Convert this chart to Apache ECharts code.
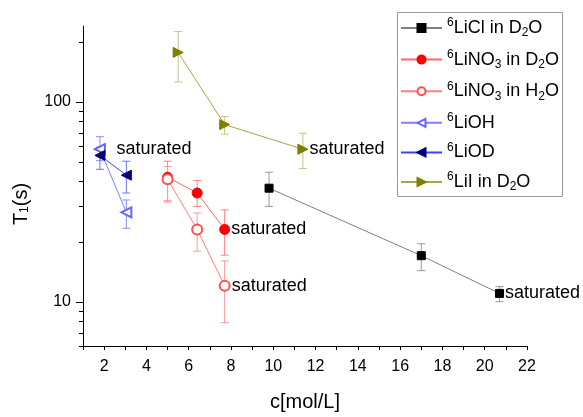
<!DOCTYPE html>
<html>
<head>
<meta charset="utf-8">
<script src="https://cdn.jsdelivr.net/npm/echarts@6/dist/echarts.min.js"></script>
<style>
  html, body { margin: 0; padding: 0; background: #fff; }
  #chart { width: 583px; height: 417px; }
</style>
</head>
<body>
<div id="chart"></div>
<script>
// values (x in mol/L, T1 in s, error bars low/high)
const liclX = [9.8, 17.0, 20.7];
const liclY = [37, 17, 11];
const liclLo = [30, 14.3, 10];
const liclHi = [44.5, 19.5, 11.9];

const no3dX = [5.0, 6.4, 7.7];
const no3dY = [42, 35, 23];
const no3dLo = [32, 30, 17.1];
const no3dHi = [50.5, 40.4, 28.8];

const no3hX = [5.0, 6.4, 7.7];
const no3hY = [41, 23, 12];
const no3hLo = [31.5, 17.9, 7.85];
const no3hHi = [47.5, 27.8, 16];

const liohX = [1.8, 3.05];
const liohY = [58, 28];
const liohLo = [50.8, 23.3];
const liohHi = [67, 32.3];

const liodX = [1.8, 3.05];
const liodY = [54, 43];
const liodLo = [46, 35];
const liodHi = [59.4, 50.5];

const liiX = [5.5, 7.7, 11.4];
const liiY = [177, 77, 58];
const liiLo = [126, 69, 46.4];
const liiHi = [225, 84.6, 69.7];

const yTicksMajor = [10, 100];
const yTicksMinor = [6, 7, 8, 9, 20, 30, 40, 50, 60, 70, 80, 90, 200];

// legend labels with super/subscripts
const legendRich = {
  '6LiCl in D2O': '{sup|6}{n|LiCl in D}{sub|2}{n|O}',
  '6LiNO3 in D2O': '{sup|6}{n|LiNO}{sub|3}{n| in D}{sub|2}{n|O}',
  '6LiNO3 in H2O': '{sup|6}{n|LiNO}{sub|3}{n| in H}{sub|2}{n|O}',
  '6LiOH': '{sup|6}{n|LiOH}',
  '6LiOD': '{sup|6}{n|LiOD}',
  '6LiI in D2O': '{sup|6}{n|LiI in D}{sub|2}{n|O}'
};

const FONT = 'Liberation Sans, Arial, sans-serif';

// points; "saturated" marker goes on given index
function pts(xs, ys, satIdx, labelOpt) {
  return xs.map((x, i) => {
    const d = { value: [x, ys[i]] };
    if (i === satIdx) {
      d.label = Object.assign({
        show: true, formatter: 'saturated', position: 'right', distance: 1,
        color: '#000', fontSize: 18, fontFamily: FONT
      }, labelOpt || {});
    }
    return d;
  });
}

function errSeries(xs, lo, hi, color) {
  return {
    type: 'custom',
    silent: true,
    z: 1,
    data: xs.map((x, i) => [x, lo[i], hi[i]]),
    renderItem: (params, api) => {
      const x = api.value(0);
      const top = api.coord([x, api.value(2)]);
      const bot = api.coord([x, api.value(1)]);
      const w = 4;
      const st = { stroke: color, lineWidth: 1 };
      return {
        type: 'group',
        children: [
          { type: 'line', shape: { x1: top[0], y1: top[1], x2: bot[0], y2: bot[1] }, style: st },
          { type: 'line', shape: { x1: top[0] - w, y1: top[1], x2: top[0] + w, y2: top[1] }, style: st },
          { type: 'line', shape: { x1: bot[0] - w, y1: bot[1], x2: bot[0] + w, y2: bot[1] }, style: st }
        ]
      };
    }
  };
}

function lineSeries(name, data, lineColor, symbol, symColor, size, rotate) {
  return {
    name: name,
    type: 'line',
    z: 3,
    data: data,
    symbol: symbol,
    symbolSize: size,
    symbolRotate: rotate || 0,
    showAllSymbol: true,
    lineStyle: { color: lineColor, width: 1 },
    itemStyle: { color: symColor, borderColor: symColor, borderWidth: 1 },
    emphasis: { disabled: true }
  };
}

// y axis ticks drawn on the log scale (outward, left of the axis)
const yTickSeries = {
  type: 'custom',
  silent: true,
  clip: false,
  z: 4,
  encode: { x: 0, y: 1 },
  data: yTicksMajor.map(v => [1, v, 7]).concat(yTicksMinor.map(v => [1, v, 4])),
  renderItem: (params, api) => {
    const p = api.coord([api.value(0), api.value(1)]);
    const len = api.value(2);
    const y = Math.round(p[1]) + 0.5;
    return {
      type: 'line',
      shape: { x1: p[0] - len, y1: y, x2: p[0], y2: y },
      style: { stroke: '#000', lineWidth: 1 }
    };
  }
};

const chart = echarts.init(document.getElementById('chart'));

chart.setOption({
  animation: false,
  backgroundColor: '#fff',
  grid: { left: 83, right: 56, top: 26, bottom: 61 },
  graphic: [{
    type: 'rect',
    shape: { x: 397.5, y: 12.5, width: 165, height: 184 },
    style: { fill: '#fff', stroke: '#999', lineWidth: 1 },
    z: 0
  }],
  xAxis: {
    type: 'value',
    min: 1,
    max: 22,
    interval: 1,
    name: 'c[mol/L]',
    nameLocation: 'middle',
    nameGap: 46,
    nameTextStyle: { fontSize: 20, color: '#000', fontFamily: FONT },
    axisLine: { lineStyle: { color: '#000', width: 1 } },
    axisTick: { show: true, inside: false, length: 4, lineStyle: { color: '#000' } },
    axisLabel: {
      margin: 13,
      fontSize: 16,
      color: '#000',
      fontFamily: FONT,
      formatter: v => (v % 2 === 0 ? String(v) : '')
    },
    splitLine: { show: false }
  },
  yAxis: {
    type: 'log',
    logBase: 10,
    min: 6,
    max: 240,
    name: 'T{sub|1}(s)',
    nameLocation: 'middle',
    nameGap: 52,
    nameRotate: 90,
    nameTextStyle: {
      fontSize: 20, color: '#000', fontFamily: FONT,
      padding: [0, 36, 0, 0],
      rich: {
        sub: { fontSize: 12, color: '#000', fontFamily: FONT, verticalAlign: 'bottom', lineHeight: 12 }
      }
    },
    axisLine: { show: true, lineStyle: { color: '#000', width: 1 } },
    axisTick: { show: false },
    axisLabel: {
      margin: 12,
      fontSize: 16,
      color: '#000',
      fontFamily: FONT,
      formatter: v => {
        const l = Math.log10(v);
        return Math.abs(l - Math.round(l)) < 1e-6 ? String(Math.round(v)) : '';
      }
    },
    splitLine: { show: false }
  },
  legend: {
    orient: 'vertical',
    left: 397,
    top: 9,
    padding: [8, 8, 8, 3],
    itemWidth: 41,
    itemHeight: 10,
    itemGap: 9.6,
    borderWidth: 0,
    data: Object.keys(legendRich),
    formatter: name => legendRich[name],
    textStyle: {
      fontFamily: FONT,
      rich: {
        n: { fontSize: 18, color: '#000', fontFamily: FONT, lineHeight: 22 },
        sup: { fontSize: 12, color: '#000', fontFamily: FONT, verticalAlign: 'top', lineHeight: 12 },
        sub: { fontSize: 12, color: '#000', fontFamily: FONT, verticalAlign: 'bottom', lineHeight: 12 }
      }
    }
  },
  series: [
    errSeries(liclX, liclLo, liclHi, '#999999'),
    errSeries(no3dX, no3dLo, no3dHi, '#ff8080'),
    errSeries(no3hX, no3hLo, no3hHi, '#ff9999'),
    errSeries(liohX, liohLo, liohHi, '#8c8cff'),
    errSeries(liodX, liodLo, liodHi, '#7070ff'),
    errSeries(liiX, liiLo, liiHi, '#c4c48a'),
    lineSeries('6LiCl in D2O', pts(liclX, liclY, 2), '#808080', 'rect', '#000000', 8),
    lineSeries('6LiNO3 in D2O', pts(no3dX, no3dY, 2), '#ff6666', 'circle', '#ff0000', 10),
    lineSeries('6LiNO3 in H2O', pts(no3hX, no3hY, 2), '#ff8080', 'emptyCircle', '#ff5050', 10),
    lineSeries('6LiOH', pts(liohX, liohY, -1), '#7f7fff', 'emptyTriangle', '#6666ff', 10, 90),
    lineSeries('6LiOD', pts(liodX, liodY, 0, { offset: [10, -6] }), '#4040ff', 'triangle', '#00007f', 10, 90),
    lineSeries('6LiI in D2O', pts(liiX, liiY, 2), '#a6a64d', 'triangle', '#7f7f00', 10, -90),
    yTickSeries
  ]
});

window.addEventListener('resize', () => chart.resize());
</script>
</body>
</html>
